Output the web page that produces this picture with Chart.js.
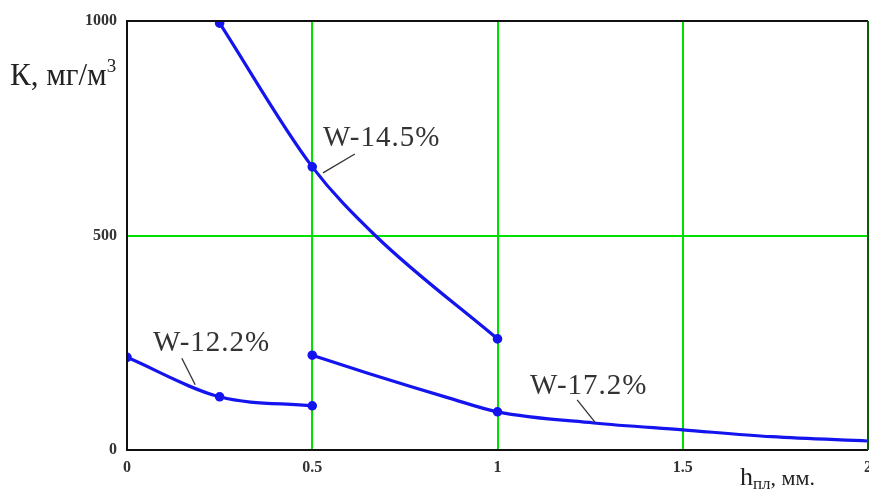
<!DOCTYPE html>
<html>
<head>
<meta charset="utf-8">
<script src="https://cdn.jsdelivr.net/npm/chart.js@4.4.1/dist/chart.umd.min.js"></script>
<style>
  html, body { margin: 0; padding: 0; background: #ffffff; overflow: hidden; }
  #wrap { width: 869px; height: 491px; position: relative; overflow: hidden; }
  #c { position: absolute; left: 0; top: 0; }
</style>
</head>
<body>
<div id="wrap"><canvas id="c" width="880" height="491"></canvas></div>
<script>
// Dust concentration K (mg/m3) versus layer thickness h (mm) for three moisture levels
const hW122 = [0, 0.25, 0.5];
const kW122 = [216, 124, 103];
const markW122 = [1, 1, 1];

const hW145 = [0.25, 0.5, 0.67, 1.0];
const kW145 = [995, 660, 500, 259];
const markW145 = [1, 1, 0, 1];

const hW172 = [0.5, 0.65, 0.87, 1.0, 1.26, 1.5, 1.74, 2.0];
const kW172 = [221, 179, 121, 89, 63, 47, 31, 21];
const markW172 = [1, 0, 0, 1, 0, 0, 0, 0];

const xTicks = [0, 0.5, 1, 1.5, 2];
const yTicks = [0, 500, 1000];

// Curve captions: text anchor and leader line, in data units
const captions = [
  { text: 'W-12.2%', x: 0.07,  y: 231, from: [0.148, 214], to: [0.184, 152] },
  { text: 'W-14.5%', x: 0.529, y: 709, from: [0.615, 690], to: [0.529, 646] },
  { text: 'W-17.2%', x: 1.088, y: 131, from: [1.215, 117], to: [1.263, 65] }
];

const BLUE = '#1414ee';
const GRID = '#00e000';
const SERIF = '"Liberation Serif", "DejaVu Serif", serif';

function pts(xs, ys) { return xs.map((x, i) => ({ x: x, y: ys[i] })); }
function series(xs, ys, marks) {
  return {
    data: pts(xs, ys),
    borderColor: BLUE,
    backgroundColor: BLUE,
    borderWidth: 3.2,
    pointRadius: marks.map(m => m ? 3.2 : 0),
    pointHoverRadius: 0,
    cubicInterpolationMode: 'monotone',
    showLine: true,
    fill: false
  };
}

const overlay = {
  id: 'overlay',
  afterDatasetsDraw(chart) {
    const ctx = chart.ctx;
    const xs = chart.scales.x, ys = chart.scales.y;
    const area = chart.chartArea;
    ctx.save();
    // curve captions with leader lines
    ctx.fillStyle = '#333333';
    ctx.strokeStyle = '#333333';
    ctx.lineWidth = 1.3;
    ctx.textBaseline = 'alphabetic';
    ctx.textAlign = 'left';
    ctx.font = '29px ' + SERIF;
    if ('letterSpacing' in ctx) ctx.letterSpacing = '1px';
    captions.forEach(c => {
      ctx.fillText(c.text, xs.getPixelForValue(c.x), ys.getPixelForValue(c.y));
      ctx.beginPath();
      ctx.moveTo(xs.getPixelForValue(c.from[0]), ys.getPixelForValue(c.from[1]));
      ctx.lineTo(xs.getPixelForValue(c.to[0]), ys.getPixelForValue(c.to[1]));
      ctx.stroke();
    });
    if ('letterSpacing' in ctx) ctx.letterSpacing = '0px';

    // y axis title: K, мг/м³
    ctx.fillStyle = '#222222';
    ctx.font = '31px ' + SERIF;
    const yt = 'К, мг/м';
    ctx.fillText(yt, 10, 85);
    const w = ctx.measureText(yt).width;
    ctx.font = '19px ' + SERIF;
    ctx.fillText('3', 10 + w, 72);

    // x axis title: h_пл, мм.
    ctx.font = '26px ' + SERIF;
    let x0 = 740;
    ctx.fillText('h', x0, 485);
    x0 += ctx.measureText('h').width;
    ctx.font = '17px ' + SERIF;
    ctx.fillText('пл', x0, 489);
    x0 += ctx.measureText('пл').width;
    ctx.font = '22px ' + SERIF;
    ctx.fillText(', мм.', x0, 485);

    // frame: black left/bottom/top, dark green right edge
    ctx.lineWidth = 2;
    ctx.strokeStyle = '#111111';
    ctx.beginPath();
    ctx.moveTo(area.right, area.top);
    ctx.lineTo(area.left, area.top);
    ctx.lineTo(area.left, area.bottom);
    ctx.lineTo(area.right, area.bottom);
    ctx.stroke();
    ctx.strokeStyle = '#0b5a0b';
    ctx.beginPath();
    ctx.moveTo(area.right, area.top);
    ctx.lineTo(area.right, area.bottom);
    ctx.stroke();
    ctx.restore();
  }
};

new Chart(document.getElementById('c'), {
  type: 'scatter',
  data: {
    datasets: [
      series(hW122, kW122, markW122),
      series(hW145, kW145, markW145),
      series(hW172, kW172, markW172)
    ]
  },
  options: {
    responsive: false,
    animation: false,
    events: [],
    layout: { padding: { left: 0, top: 21, right: 1, bottom: 0 } },
    plugins: { legend: { display: false }, tooltip: { enabled: false } },
    scales: {
      x: {
        type: 'linear',
        min: 0, max: 2,
        afterBuildTicks: s => { s.ticks = xTicks.map(v => ({ value: v })); },
        afterFit: s => { s.height = 41; },
        border: { display: false },
        grid: {
          drawTicks: false,
          lineWidth: 2,
          color: c => (c.tick && c.tick.value > 0 && c.tick.value < 2) ? GRID : 'rgba(0,0,0,0)'
        },
        ticks: {
          padding: 8,
          color: '#333333',
          font: { family: SERIF, size: 16, weight: 'bold' },
          callback: v => String(v)
        }
      },
      y: {
        type: 'linear',
        min: 0, max: 1000,
        afterBuildTicks: s => { s.ticks = yTicks.map(v => ({ value: v })); },
        afterFit: s => { s.width = 127; },
        border: { display: false },
        grid: {
          drawTicks: false,
          lineWidth: 2,
          color: c => (c.tick && c.tick.value > 0 && c.tick.value < 1000) ? GRID : 'rgba(0,0,0,0)'
        },
        ticks: {
          padding: 10,
          color: '#333333',
          font: { family: SERIF, size: 16, weight: 'bold' },
          callback: v => String(v)
        }
      }
    }
  },
  plugins: [overlay]
});
</script>
</body>
</html>
